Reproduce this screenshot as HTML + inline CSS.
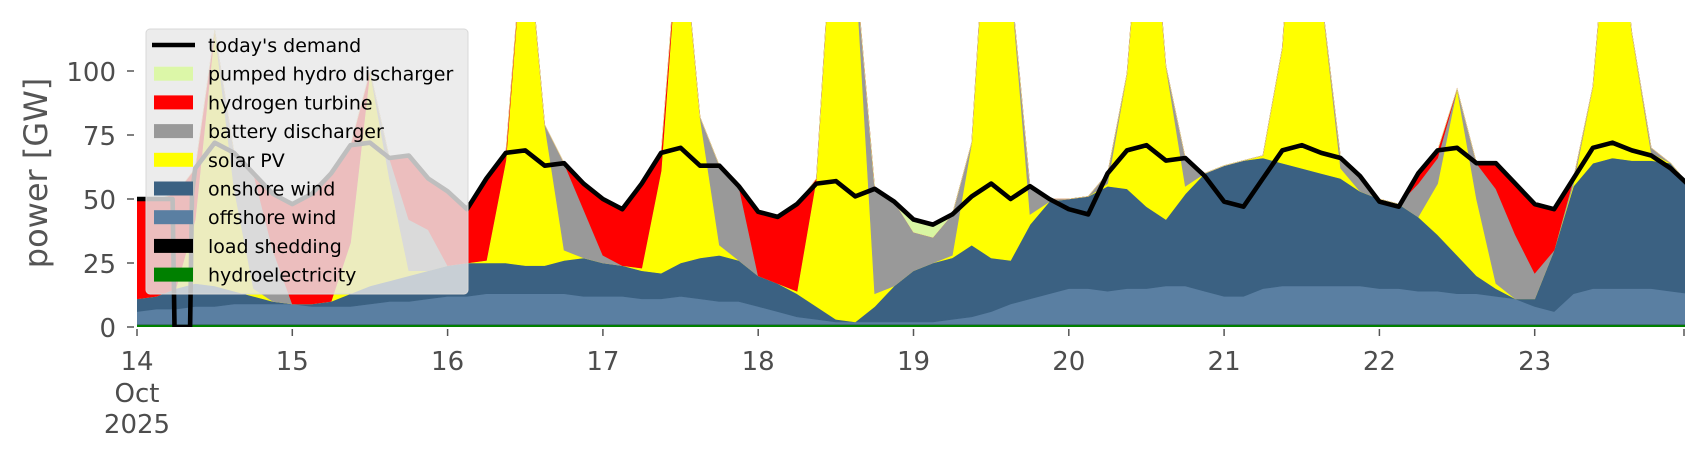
<!DOCTYPE html>
<html><head><meta charset="utf-8">
<style>
html,body{margin:0;padding:0;background:#fff;}
svg{display:block;font-family:"DejaVu Sans","Liberation Sans",sans-serif;}
</style></head>
<body>
<svg id="chart" width="1706" height="460" viewBox="0 0 1706 460">
  <defs><clipPath id="plotclip"><rect x="137" y="22" width="1548" height="305"/></clipPath></defs>
  <g id="marks" clip-path="url(#plotclip)"></g>
  <g id="axes"></g>
  <g id="legend"></g>
</svg>
<script>
// time in hours since 14 Oct 00:00, 3-hour steps
const hours = [0,3,6,9,12,15,18,21,24,27,30,33,36,39,42,45,48,51,54,57,60,63,66,69,72,75,78,81,84,87,90,93,96,99,102,105,108,111,114,117,120,123,126,129,132,135,138,141,144,147,150,153,156,159,162,165,168,171,174,177,180,183,186,189,192,195,198,201,204,207,210,213,216,219,222,225,228,231,234,237,240];
const demandHours = [0,3,5.5,5.8,8.2,8.5,9,12,15,18,21,24,27,30,33,36,39,42,45,48,51,54,57,60,63,66,69,72,75,78,81,84,87,90,93,96,99,102,105,108,111,114,117,120,123,126,129,132,135,138,141,144,147,150,153,156,159,162,165,168,171,174,177,180,183,186,189,192,195,198,201,204,207,210,213,216,219,222,225,228,231,234,237,240];
const demand = [50,50,50,0,0,52,62,72,68,60,52, 48,52,60,71,72,66,67,58, 53,46,58,68,69,63,64,56, 50,46,56,68,70,63,63,55, 45,43,48,56,57,51,54,49, 42,40,44,51,56,50,55,50, 46,44,60,69,71,65,66,59, 49,47,58,69,71,68,66,59, 49,47,60,69,70,64,64,56, 48,46,58,70,72,69,67,62,55];
const hydro = [1,1,1,1,1,1,1,1, 1,1,1,1,1,1,1,1, 1,1,1,1,1,1,1,1, 1,1,1,1,1,1,1,1, 1,1,1,1,1,1,1,1, 1,1,1,1,1,1,1,1, 1,1,1,1,1,1,1,1, 1,1,1,1,1,1,1,1, 1,1,1,1,1,1,1,1, 1,1,1,1,1,1,1,1,1];
const loadShedding = [0,0,0,0,0,0,0,0, 0,0,0,0,0,0,0,0, 0,0,0,0,0,0,0,0, 0,0,0,0,0,0,0,0, 0,0,0,0,0,0,0,0, 0,0,0,0,0,0,0,0, 0,0,0,0,0,0,0,0, 0,0,0,0,0,0,0,0, 0,0,0,0,0,0,0,0, 0,0,0,0,0,0,0,0,0];
const offshore = [5,6,6,7,7,8,8,8, 8,7,7,7,8,9,9,10, 11,11,12,12,12,12,12,11, 11,11,10,10,11,10,9,9, 7,5,3,2,1,1,1,1, 1,1,2,3,5,8,10,12, 14,14,13,14,14,15,15,13, 11,11,14,15,15,15,15,15, 14,14,13,13,12,12,11,10, 7,5,12,14,14,14,14,13,12];
const onshore = [5,5,8,9,8,5,3,1, 0,1,2,5,7,8,10,11, 12,13,12,12,11,11,13,15, 13,12,11,10,13,16,18,16, 12,11,9,5,1,0,6,14, 20,23,24,28,21,17,29,36, 35,36,41,39,32,26,36,46, 51,53,51,48,46,44,42,37, 35,33,29,22,15,7,3,0, 3,24,42,49,51,50,50,50,42];
const solar = [0,0,0,25,100,40,3,0, 0,0,0,20,84,40,2,0, 0,0,1,40,140,55,4,0, 0,0,1,40,140,55,4,0, 0,0,1,50,180,140,5,0, 0,0,1,40,170,110,4,0, 0,0,1,45,150,60,3,0, 0,0,1,45,160,70,4,0, 0,0,0,20,65,30,2,0, 0,0,1,30,120,50,3,0,0];
const battery = [0,0,0,0,0,14,45,20, 0,0,0,0,0,8,20,16, 0,0,0,0,0,0,34,19, 3,0,0,0,0,0,31,29, 0,0,0,0,0,0,41,33, 15,10,16,0,0,0,11,1, 0,0,4,0,0,0,11,0, 0,0,0,0,0,0,4,6, 0,0,13,10,0,14,37,25, 10,0,2,0,0,0,2,0,0];
const hydrogen = [39,38,37,20,0,0,0,22, 39,43,50,38,0,0,25,20, 29,21,32,3,0,0,0,10, 22,22,33,7,0,0,0,0, 25,26,34,0,0,0,0,0, 0,0,0,0,0,0,0,0, 0,0,0,0,0,0,0,0, 0,0,0,0,0,0,0,0, 0,0,4,3,0,0,10,20, 27,16,0,0,0,0,0,0,0];
const pumped = [0,0,0,0,0,0,0,0, 0,0,0,0,0,0,0,0, 0,0,0,0,0,0,0,0, 0,0,0,0,0,0,0,0, 0,0,0,0,0,0,0,0, 5,5,0,0,0,0,0,0, 0,0,0,0,0,0,0,0, 0,0,0,0,0,0,0,0, 0,0,0,0,0,0,0,0, 0,0,0,0,0,0,0,0,0];
const yTicks = [0,25,50,75,100];
const xTickDays = ["14","15","16","17","18","19","20","21","22","23"];

const NS = "http://www.w3.org/2000/svg";
const X0 = 137, PXDAY = 155.3, Y0 = 327, PXGW = 2.56;
const xs = h => X0 + h / 24 * PXDAY;
const ys = v => Y0 - v * PXGW;
const marks = document.getElementById('marks');
const axes = document.getElementById('axes');
const legend = document.getElementById('legend');
function mk(tag, attrs, parent){const e=document.createElementNS(NS,tag);for(const k in attrs)e.setAttribute(k,attrs[k]);parent.appendChild(e);return e;}

const layers = [
  {name:'hydroelectricity', data:hydro, color:'#008000'},
  {name:'load-shedding', data:loadShedding, color:'#000000'},
  {name:'offshore-wind', data:offshore, color:'#5a7fa2'},
  {name:'onshore-wind', data:onshore, color:'#3b6182'},
  {name:'solar-pv', data:solar, color:'#ffff00'},
  {name:'battery-discharger', data:battery, color:'#999999'},
  {name:'hydrogen-turbine', data:hydrogen, color:'#ff0000'},
  {name:'pumped-hydro-discharger', data:pumped, color:'#d8f6a2'}
];
let base = hours.map(()=>0);
layers.forEach(L=>{
  const top = base.map((b,i)=>b+L.data[i]);
  let d = '';
  hours.forEach((h,i)=>{d += (i?'L':'M') + xs(h).toFixed(1) + ',' + ys(top[i]).toFixed(1);});
  for(let i=hours.length-1;i>=0;i--){d += 'L' + xs(hours[i]).toFixed(1) + ',' + ys(base[i]).toFixed(1);}
  const p = mk('path',{d:d+'Z',fill:L.color,stroke:L.color,'stroke-width':0.6},marks);
  
  
  base = top;
});
let dl = '';
demandHours.forEach((h,i)=>{dl += (i?'L':'M') + xs(h).toFixed(1) + ',' + ys(demand[i]).toFixed(1);});
const dline = mk('path',{d:dl,fill:'none',stroke:'#000','stroke-width':4.6,'stroke-linejoin':'round'},marks);



// y axis
yTicks.forEach(v=>{
  const t = mk('line',{x1:127,x2:134,y1:ys(v),y2:ys(v),stroke:'#555','stroke-width':1.5},axes);
  
  
  const lb = mk('text',{x:116,y:ys(v)+10,'text-anchor':'end','font-size':26,fill:'#4d4d4d'},axes);
  lb.textContent = v;
  
  
});
const yt = mk('text',{x:0,y:0,'text-anchor':'middle','font-size':32,fill:'#555',transform:'translate(47,173) rotate(-90)'},axes);
yt.textContent = 'power [GW]';


// x axis
xTickDays.forEach((lab,i)=>{
  const x = xs(i*24);
  const t = mk('line',{x1:x,x2:x,y1:329,y2:336,stroke:'#555','stroke-width':1.5},axes);
  
  
  const lb = mk('text',{x:x,y:370,'text-anchor':'middle','font-size':26,fill:'#4d4d4d'},axes);
  lb.textContent = lab;
  
  
});
const endTick = mk('line',{x1:1684,x2:1684,y1:329,y2:336,stroke:'#555','stroke-width':1.5},axes);


[['Oct',402],['2025',433]].forEach(([s,y])=>{
  const lb = mk('text',{x:xs(0),y:y,'text-anchor':'middle','font-size':26,fill:'#4d4d4d'},axes);
  lb.textContent = s;
  
  
});

// legend
const lbox = mk('rect',{x:146,y:29,width:322,height:265,rx:4,fill:'rgba(232,232,232,0.82)',stroke:'#d8d8d8','stroke-width':1},legend);


const entries = [
  ['today\'s demand','line','#000'],
  ['pumped hydro discharger','patch','#dcf7a8'],
  ['hydrogen turbine','patch','#ff0000'],
  ['battery discharger','patch','#999999'],
  ['solar PV','patch','#ffff00'],
  ['onshore wind','patch','#3b6182'],
  ['offshore wind','patch','#5a7fa2'],
  ['load shedding','patch','#000000'],
  ['hydroelectricity','patch','#008000']
];
entries.forEach((e,i)=>{
  const cy = 45 + i*28.7;
  const g = mk('g',{},legend);
  
  
  if(e[1]==='line') mk('line',{x1:152,x2:195,y1:cy,y2:cy,stroke:e[2],'stroke-width':4.6},g);
  else mk('rect',{x:154,y:cy-7,width:39,height:14,fill:e[2]},g);
  const t = mk('text',{x:208,y:cy+7,'font-size':19,fill:'#000'},g);
  t.textContent = e[0];
});
</script>
</body></html>
